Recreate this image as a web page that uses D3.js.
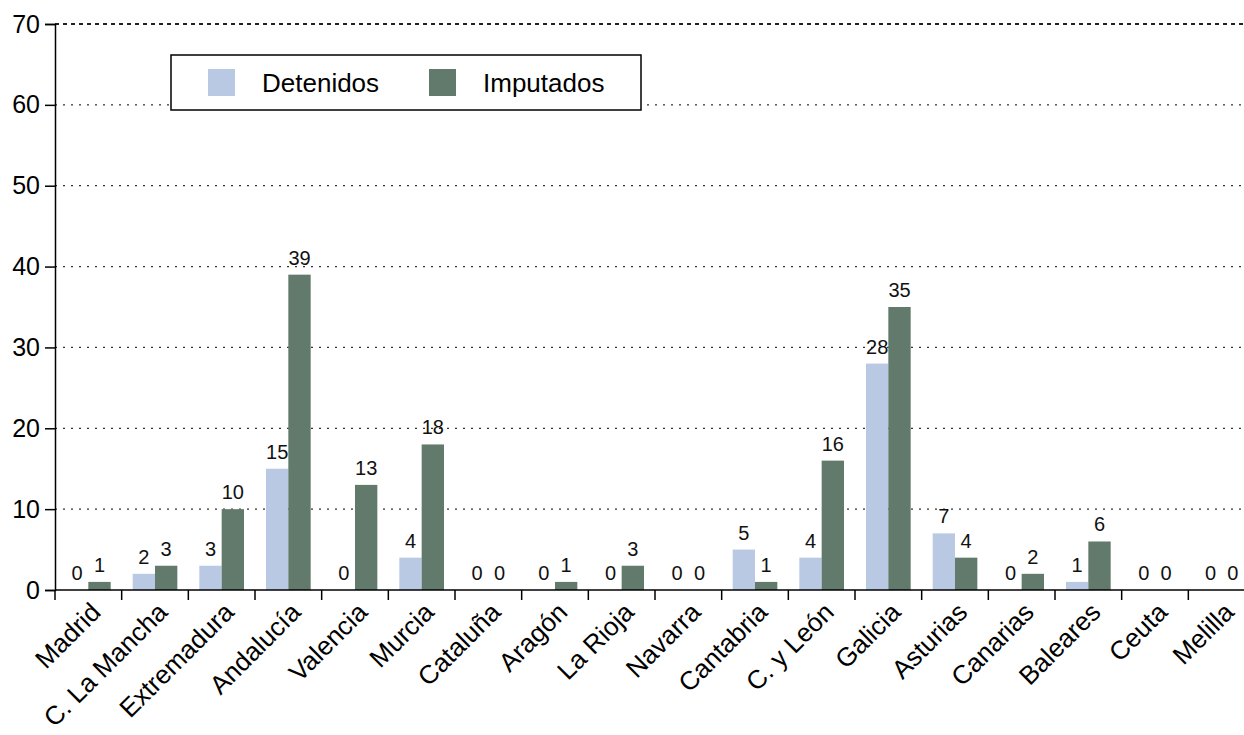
<!DOCTYPE html>
<html>
<head>
<meta charset="utf-8">
<script src="https://cdn.jsdelivr.net/npm/d3@7"></script>
<style>
  body { margin: 0; background: #fff; }
  svg { display: block; font-family: "Liberation Sans", Arial, Helvetica, sans-serif; }
</style>
</head>
<body>
<svg id="chart"></svg>
<script>
const width = 1244;
const height = 735;

const regions = ['Madrid', 'C. La Mancha', 'Extremadura', 'Andalucía', 'Valencia', 'Murcia',
  'Cataluña', 'Aragón', 'La Rioja', 'Navarra', 'Cantabria', 'C. y León', 'Galicia',
  'Asturias', 'Canarias', 'Baleares', 'Ceuta', 'Melilla'];
const detenidos = [0, 2, 3, 15, 0, 4, 0, 0, 0, 0, 5, 4, 28, 7, 0, 1, 0, 0];
const imputados = [1, 3, 10, 39, 13, 18, 0, 1, 3, 0, 1, 16, 35, 4, 2, 6, 0, 0];
const seriesNames = ['Detenidos', 'Imputados'];
const yTicks = [0, 10, 20, 30, 40, 50, 60, 70];

const colors = { 'Detenidos': '#b9c8e3', 'Imputados': '#627a6c' };

const data = regions.map((r, i) => ({ region: r, Detenidos: detenidos[i], Imputados: imputados[i] }));

const svg = d3.select('#chart')
    .attr('width', width)
    .attr('height', height);

// plot runs past the right edge of the picture, like the original
const x = d3.scaleBand().domain(regions).range([55, 1255]).paddingInner(0.33).paddingOuter(0.165);
const xSub = d3.scaleBand().domain(seriesNames).range([0, x.bandwidth()]);
const y = d3.scaleLinear().domain([0, 70]).range([590, 24]);

// gridlines
svg.append('g')
    .selectAll('line')
    .data(yTicks.filter(d => d > 0))
    .enter()
    .append('line')
    .attr('x1', 55)
    .attr('x2', width)
    .attr('y1', d => y(d))
    .attr('y2', d => y(d))
    .attr('stroke', d => d === 70 ? '#222' : '#333')
    .attr('stroke-width', d => d === 70 ? 2.2 : 1.2)
    .attr('stroke-dasharray', d => d === 70 ? '4,4' : '2,6');

// bars
const groups = svg.append('g')
    .selectAll('g')
    .data(data)
    .enter()
    .append('g')
    .attr('transform', d => `translate(${x(d.region)},0)`);

groups.selectAll('rect')
    .data(d => seriesNames.map(s => ({ key: s, value: d[s] })))
    .enter()
    .append('rect')
    .attr('x', d => xSub(d.key))
    .attr('y', d => y(d.value))
    .attr('width', xSub.bandwidth())
    .attr('height', d => y(0) - y(d.value))
    .attr('fill', d => colors[d.key]);

groups.selectAll('text')
    .data(d => seriesNames.map(s => ({ key: s, value: d[s] })))
    .enter()
    .append('text')
    .attr('x', d => xSub(d.key) + xSub.bandwidth() / 2)
    .attr('y', d => y(d.value) - 10)
    .attr('text-anchor', 'middle')
    .style('font-size', '20px')
    .style('fill', '#111')
    .text(d => d.value);

// y axis
const yAxis = svg.append('g')
    .attr('transform', 'translate(55,0)')
    .call(d3.axisLeft(y).tickValues(yTicks).tickSize(10).tickPadding(5));
yAxis.select('.domain').attr('stroke', '#000').attr('stroke-width', 1.5);
yAxis.selectAll('.tick line').attr('stroke', '#000').attr('stroke-width', 1.5);
yAxis.selectAll('.tick text')
    .style('font-size', '25px')
    .style('font-family', '"Liberation Sans", Arial, sans-serif')
    .attr('fill', '#000');

// x axis, ticks between categories
const xAxisG = svg.append('g');
xAxisG.append('line')
    .attr('x1', 55).attr('x2', width)
    .attr('y1', y(0)).attr('y2', y(0))
    .attr('stroke', '#000').attr('stroke-width', 1.5);
xAxisG.selectAll('.sep')
    .data(regions)
    .enter()
    .append('line')
    .attr('class', 'sep')
    .attr('x1', d => x(d) - x.step() * x.paddingOuter())
    .attr('x2', d => x(d) - x.step() * x.paddingOuter())
    .attr('y1', y(0))
    .attr('y2', y(0) + 10)
    .attr('stroke', '#000')
    .attr('stroke-width', 1.5);
xAxisG.selectAll('.lbl')
    .data(regions)
    .enter()
    .append('text')
    .attr('class', 'lbl')
    .attr('text-anchor', 'end')
    .attr('transform', d => `translate(${x(d) + x.bandwidth() / 2 + 1},${y(0) + 11}) rotate(-45)`)
    .attr('dy', '0.7em')
    .style('font-size', '26px')
    .style('fill', '#000')
    .text(d => d);

// legend
const legend = svg.append('g').attr('transform', 'translate(171,55)');
legend.append('rect')
    .attr('width', 470)
    .attr('height', 55)
    .attr('fill', '#fff')
    .attr('stroke', '#000')
    .attr('stroke-width', 1.5);
const legendItems = legend.selectAll('.item')
    .data(seriesNames)
    .enter()
    .append('g')
    .attr('class', 'item')
    .attr('transform', (d, i) => `translate(${37 + i * 221},14)`);
legendItems.append('rect')
    .attr('width', 27)
    .attr('height', 27)
    .attr('fill', d => colors[d]);
legendItems.append('text')
    .attr('x', 54)
    .attr('y', 23)
    .style('font-size', '26px')
    .style('fill', '#000')
    .text(d => d);
</script>
</body>
</html>
